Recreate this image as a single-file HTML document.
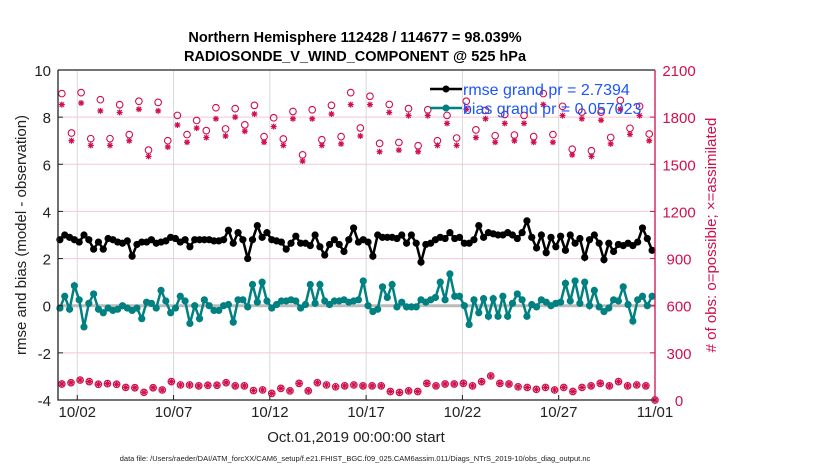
<!DOCTYPE html>
<html><head><meta charset="utf-8"><style>
html,body{margin:0;padding:0;background:#fff;}
svg{display:block;font-family:"Liberation Sans",sans-serif;}
</style></head><body>
<svg id="chart" width="830" height="470" viewBox="0 0 830 470">
<g id="grid"></g>
<g id="marks"></g>
<g id="axes"></g>
<text x="355" y="42" text-anchor="middle" font-size="14.5" font-weight="bold">Northern Hemisphere 112428 / 114677 = 98.039%</text>
<text x="355" y="61" text-anchor="middle" font-size="14.5" font-weight="bold">RADIOSONDE_V_WIND_COMPONENT @ 525 hPa</text>
<text transform="translate(26,235) rotate(-90)" text-anchor="middle" font-size="15" fill="#222">rmse and bias (model - observation)</text>
<text transform="translate(716,235) rotate(-90)" text-anchor="middle" font-size="15" fill="#d0104c"># of obs: o=possible; ×=assimilated</text>
<text x="356" y="442" text-anchor="middle" font-size="15" fill="#222">Oct.01,2019 00:00:00 start</text>
<text x="355" y="461" text-anchor="middle" font-size="7.5" fill="#222">data file: /Users/raeder/DAI/ATM_forcXX/CAM6_setup/f.e21.FHIST_BGC.f09_025.CAM6assim.011/Diags_NTrS_2019-10/obs_diag_output.nc</text>
<g>
<line x1="430" y1="89" x2="462" y2="89" stroke="#000" stroke-width="2.5"/>
<circle cx="446" cy="89" r="3.5" fill="#000"/>
<text x="463" y="95" font-size="16" fill="#1a55ff">rmse grand pr = 2.7394</text>
<line x1="430" y1="108" x2="462" y2="108" stroke="#008080" stroke-width="2.5"/>
<circle cx="446" cy="108" r="3.5" fill="#008080"/>
<text x="463" y="114" font-size="16" fill="#1a55ff">bias grand pr = 0.057023</text>
</g>
</svg>
<script>
const rmse=[2.8,3.0,2.9,2.8,2.7,3.0,2.8,2.4,2.7,2.4,2.85,2.8,2.7,2.65,2.75,2.1,2.6,2.7,2.7,2.8,2.65,2.7,2.75,2.9,2.85,2.7,2.8,2.5,2.8,2.8,2.8,2.8,
2.75,2.75,2.8,3.2,2.65,3.1,2.8,2.0,2.8,3.4,2.9,3.1,2.8,2.75,2.7,2.4,2.65,2.95,2.65,2.65,2.55,3.0,2.5,2.15,2.6,2.8,2.6,2.3,2.8,3.3,2.7,
2.8,2.7,2.1,3.0,2.9,2.9,2.9,2.85,3.0,2.65,3.0,2.65,1.85,2.6,2.65,2.8,2.9,2.85,3.1,2.85,2.9,2.65,2.65,2.8,3.4,2.9,3.1,3.05,3.0,3.0,
3.1,3.0,2.85,3.1,3.6,2.9,2.45,3.0,2.25,2.9,2.5,2.95,2.35,3.0,2.65,2.85,2.05,2.8,3.0,2.65,1.95,2.65,2.3,2.6,2.55,2.65,2.55,2.7,3.3,2.85,2.35];
const bias=[-0.1,0.4,-0.15,0.85,0.25,-0.9,0.1,0.5,-0.15,-0.3,-0.1,-0.2,-0.15,0.0,-0.1,-0.2,-0.1,-0.55,0.15,0.1,-0.1,0.65,0.2,-0.3,-0.1,0.4,0.2,-0.75,0.0,-0.55,0.25,0.0,
-0.2,-0.2,0.0,0.05,-0.7,0.25,0.25,-0.05,0.9,0.15,1.0,0.2,-0.1,0.05,0.2,0.2,0.25,0.2,-0.1,0.05,0.9,0.1,0.9,0.2,0.05,0.2,0.2,0.25,0.15,0.2,0.25,1.05,
0.0,-0.25,-0.15,0.8,0.35,0.9,-0.05,0.15,-0.05,-0.05,-0.05,0.25,0.15,0.25,0.35,1.0,0.25,1.35,0.4,0.4,0.0,-0.8,0.25,-0.3,0.3,-0.45,0.3,-0.45,0.4,
-0.45,0.1,0.5,0.25,-0.45,0.05,-0.05,0.25,0.15,0.0,0.1,0.15,0.95,0.2,1.05,0.1,1.0,0.0,0.65,-0.05,-0.25,-0.1,0.25,0.2,0.8,0.05,-0.65,0.25,0.4,0.0,0.4];
const possibleTop=[1950,1699,1956,1663,1911,1663,1879,1689,1901,1590,1894,1650,1811,1689,1779,1714,1860,1725,1854,1751,1875,1676,1796,1661,1836,1560,1847,1656,1875,1676,1956,1731,1933,1633,1881,1639,1854,1618,1847,1650,1811,1667,1901,1719,1843,1682,1817,1686,1811,1676,1950,1689,1869,1596,1832,1586,1832,1671,1907,1729,1869,1693];
const assimTop=[1880,1650,1890,1620,1840,1620,1830,1650,1850,1550,1840,1610,1750,1640,1730,1670,1790,1680,1800,1710,1820,1640,1740,1620,1790,1520,1790,1620,1820,1630,1880,1680,1880,1580,1830,1590,1810,1580,1810,1620,1760,1620,1850,1670,1790,1640,1760,1650,1760,1640,1880,1640,1810,1560,1790,1550,1780,1630,1850,1690,1810,1650];
const possibleBot=[102,110,127,117,100,104,100,80,78,49,78,64,117,96,96,90,94,94,110,90,90,60,64,42,74,58,106,58,110,96,84,90,96,
90,90,90,54,48,58,54,106,90,102,102,106,90,117,153,106,102,84,80,68,80,64,80,54,80,90,106,90,117,90,96,90,0];
const assimBot=possibleBot.slice();
const xTickDays=[1,6,11,16,21,26,31];
const xTickLabels=["10/02","10/07","10/12","10/17","10/22","10/27","11/01"];
const yTicks=[-4,-2,0,2,4,6,8,10];
const y2Ticks=[0,300,600,900,1200,1500,1800,2100];

const NS="http://www.w3.org/2000/svg";
const L=58,R=655,T=70,B=400;
const xs=d=>L+(R-L)*d/31;
const ys=v=>B-(B-T)*(v+4)/14;
const y2=c=>B-(B-T)*c/2100;
function mk(tag,attrs,parent){const e=document.createElementNS(NS,tag);for(const k in attrs)e.setAttribute(k,attrs[k]);parent.appendChild(e);return e;}
const grid=document.getElementById('grid'),marks=document.getElementById('marks'),axes=document.getElementById('axes');

xTickDays.forEach((d,i)=>{
  const g=mk('line',{x1:xs(d),x2:xs(d),y1:T,y2:B,stroke:'#d8d8d8','stroke-width':1},grid);
  
  
  const tk=mk('line',{x1:xs(d),x2:xs(d),y1:B,y2:B-5,stroke:'#222'},axes);
  
  
  const t=mk('text',{x:xs(d),y:B+17,'text-anchor':'middle','font-size':15,fill:'#222'},axes);
  t.textContent=xTickLabels[i];
  
  
});
yTicks.forEach(v=>{
  if(v>-4&&v<10&&v!==0){const g=mk('line',{x1:L,x2:R,y1:ys(v),y2:ys(v),stroke:'#f2c8d6','stroke-width':1},grid);
  
  }
  const tk=mk('line',{x1:L,x2:L+5,y1:ys(v),y2:ys(v),stroke:'#222'},axes);
  
  
  const t=mk('text',{x:L-7,y:ys(v)+6,'text-anchor':'end','font-size':15,fill:'#222'},axes);
  t.textContent=v;
  
  
});
y2Ticks.forEach(c=>{
  const tk=mk('line',{x1:R-5,x2:R,y1:y2(c),y2:y2(c),stroke:'#d0104c'},axes);
  
  
  const t=mk('text',{x:679,y:y2(c)+6,'text-anchor':'middle','font-size':15,fill:'#d0104c'},axes);
  t.textContent=c;
  
  
});
const zl=mk('line',{x1:L,x2:R,y1:ys(0),y2:ys(0),stroke:'#bbb','stroke-width':3},grid);



function dayOf(i,n,a,b){return a+(b-a)*i/(n-1);}
function series(vals,color,name){
  const pts=vals.map((v,i)=>[xs(dayOf(i,vals.length,0.1,30.85)),ys(v)]);
  const p=mk('polyline',{points:pts.map(p=>p.join(',')).join(' '),fill:'none',stroke:color,'stroke-width':2.5},marks);
  
  
  pts.forEach(q=>{const c=mk('circle',{cx:q[0],cy:q[1],r:3.6,fill:color},marks);
    
    });
}
function star(cx,cy,name){
  const s=mk('path',{d:`M${cx-3},${cy}h6M${cx},${cy-3}v6M${cx-2.2},${cy-2.2}l4.4,4.4M${cx-2.2},${cy+2.2}l4.4,-4.4`,stroke:'#d0104c','stroke-width':1.2,fill:'none'},marks);
  
  
}
function ring(cx,cy,name){
  const c=mk('circle',{cx:cx,cy:cy,r:3.3,fill:'none',stroke:'#d0104c','stroke-width':1.1},marks);
  
  
}
possibleTop.forEach((c,i)=>ring(xs(dayOf(i,possibleTop.length,0.2,30.7)),y2(c),'obs-possible-point'));
assimTop.forEach((c,i)=>star(xs(dayOf(i,assimTop.length,0.2,30.7)),y2(c),'obs-assimilated-point'));
possibleBot.forEach((c,i)=>ring(xs(dayOf(i,possibleBot.length,0.2,31)),y2(c),'obs-possible-point'));
assimBot.forEach((c,i)=>star(xs(dayOf(i,assimBot.length,0.2,31)),y2(c),'obs-assimilated-point'));
series(bias,'#008080','bias');
series(rmse,'#000000','rmse');

const ax=[['M'+L+','+T+'V'+B+'H'+R,'#222','left-bottom-axis'],['M'+L+','+T+'H'+R,'#222','top-axis'],['M'+R+','+T+'V'+B,'#d0104c','right-axis']];
ax.forEach(a=>{const p=mk('path',{d:a[0],stroke:a[1],'stroke-width':1.3,fill:'none'},axes);
  
  });
</script>
</body></html>
